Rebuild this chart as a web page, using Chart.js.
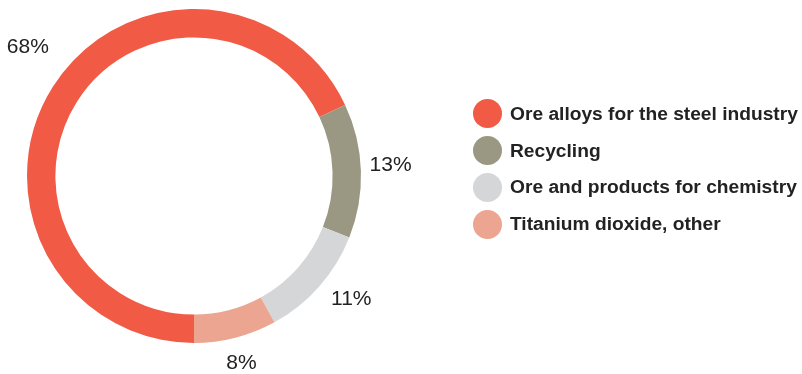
<!DOCTYPE html>
<html>
<head>
<meta charset="utf-8">
<script src="https://cdn.jsdelivr.net/npm/chart.js@4"></script>
<style>
  html, body { margin: 0; padding: 0; background: #fff; }
  #wrap { position: relative; width: 802px; height: 374px; }
  #legend { position: absolute; left: 473px; top: 95.5px; font-family: 'Liberation Sans', Arial, sans-serif; font-weight: bold; font-size: 19.2px; color: #222; white-space: nowrap; }
  .row { display: flex; align-items: center; height: 36.8px; }
  .dot { width: 29px; height: 29px; border-radius: 50%; margin-right: 8px; flex: none; }
</style>
</head>
<body>
<div id="wrap">
  <canvas id="chart" width="802" height="374"></canvas>
  <div id="legend"></div>
</div>
<script>
const categories = ['Ore alloys for the steel industry', 'Recycling', 'Ore and products for chemistry', 'Titanium dioxide, other'];
const shares = [68, 13, 11, 8];
const valueLabels = ['68%', '13%', '11%', '8%'];

const colors = ['#f15a45', '#9a9782', '#d5d6d8', '#eba590'];
// label placement tweaks (degrees, px from centre)
const labelShift = [6, -2, -4, 0];
const labelRadius = [212, 197, 198, 191];

const outsideLabels = {
  id: 'outsideLabels',
  afterDraw(chart) {
    const ctx = chart.ctx;
    const arcs = chart.getDatasetMeta(0).data;
    ctx.save();
    ctx.font = '21px "Liberation Sans", Arial, sans-serif';
    ctx.fillStyle = '#222';
    ctx.textAlign = 'center';
    ctx.textBaseline = 'middle';
    arcs.forEach((arc, i) => {
      const a = (arc.startAngle + arc.endAngle) / 2 + labelShift[i] * Math.PI / 180;
      const x = arc.x + Math.cos(a) * labelRadius[i];
      const y = arc.y + Math.sin(a) * labelRadius[i] + 2.5;
      ctx.fillText(valueLabels[i], x, y);
    });
    ctx.restore();
  },
};

const ctx = document.getElementById('chart').getContext('2d');

new Chart(ctx, {
  type: 'doughnut',
  data: {
    labels: categories,
    datasets: [
      {
        data: shares,
        backgroundColor: colors,
        borderWidth: 0,
      },
    ],
  },
  options: {
    responsive: false,
    animation: false,
    rotation: 180,
    cutout: '83%',
    layout: {
      padding: { left: 26, top: 9, right: 440, bottom: 31 },
    },
    plugins: {
      legend: { display: false },
      tooltip: { enabled: false },
    },
  },
  plugins: [outsideLabels],
});

const legend = document.getElementById('legend');
categories.forEach((name, i) => {
  const row = document.createElement('div');
  row.className = 'row';
  row.innerHTML = '<span class="dot" style="background:' + colors[i] + '"></span><span>' + name + '</span>';
  legend.appendChild(row);
});
</script>
</body>
</html>
